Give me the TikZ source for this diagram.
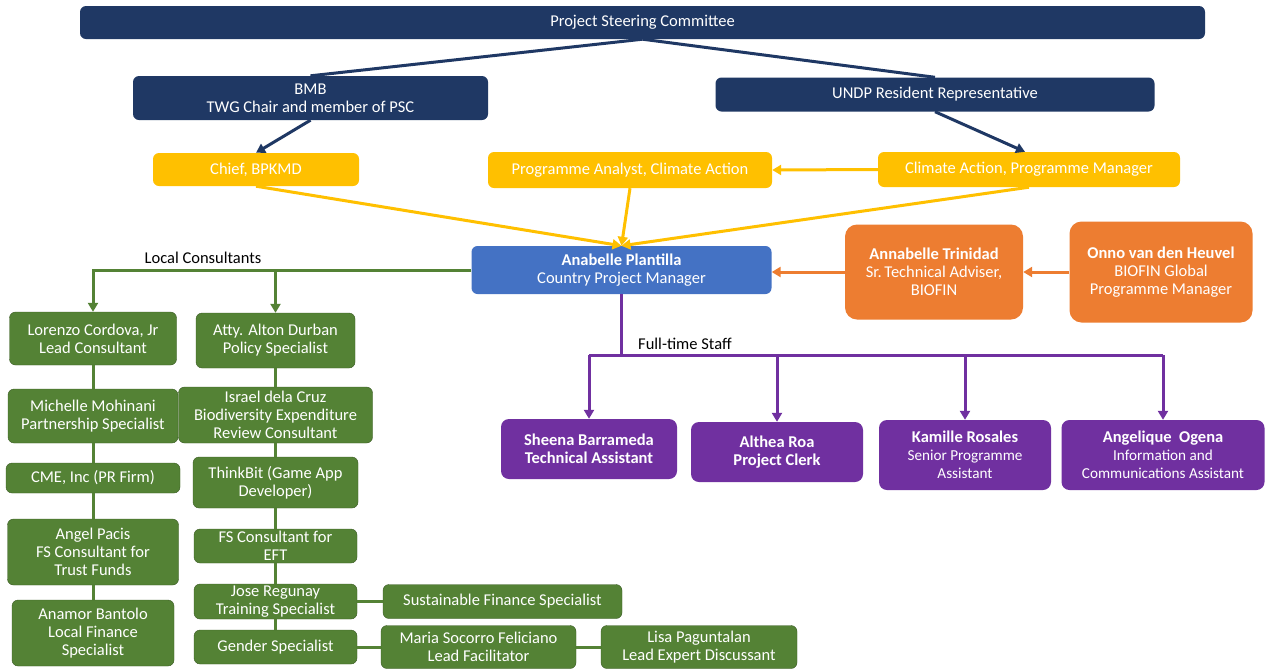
\documentclass[tikz,border=0pt]{standalone}
\usepackage{fontspec}
\setmainfont{Carlito}
\usetikzlibrary{arrows.meta,calc}
\definecolor{navy}{HTML}{1F3864}
\definecolor{gold}{HTML}{FFC000}
\definecolor{bluebox}{HTML}{4472C4}
\definecolor{orangebox}{HTML}{ED7D31}
\definecolor{greenbox}{HTML}{548235}
\definecolor{purplebox}{HTML}{7030A0}
\tikzset{
  box/.style={rounded corners=6pt, inner sep=0pt, align=center, text=white,
    font=\fontsize{16.5}{18}\selectfont},
  navybox/.style={box, fill=navy},
  goldbox/.style={box, fill=gold},
  bluenode/.style={box, fill=bluebox},
  orangenode/.style={box, fill=orangebox, rounded corners=12pt},
  greennode/.style={box, fill=greenbox, draw=greenbox!70!black, line width=0.4pt},
  purplenode/.style={box, fill=purplebox, rounded corners=8pt},
  tip/.style={-{Triangle[length=9pt,width=10pt]}},
  navyline/.style={draw=navy, line width=3pt},
  goldline/.style={draw=gold, line width=3pt},
  orangeline/.style={draw=orangebox, line width=3pt},
  greenline/.style={draw=greenbox, line width=3pt},
  purpleline/.style={draw=purplebox, line width=3pt},
  lbl/.style={font=\fontsize{16.5}{18}\selectfont, text=black, inner sep=0pt}
}
\newcommand{\smtxt}[1]{{\fontsize{15.2}{17}\selectfont #1}}
\begin{document}
\begin{tikzpicture}[x=1pt,y=-1pt]
\useasboundingbox (0,0) rectangle (1266,670);
\fill[white] (0,0) rectangle (1266,670);
% top
\node[navybox, minimum width=1125pt, minimum height=33pt] (psc) at (642.5,22.5) {Project Steering Committee};
\node[navybox, minimum width=355pt, minimum height=44pt] (bmb) at (310.5,98) {BMB\\TWG Chair and member of PSC};
\node[navybox, minimum width=439pt, minimum height=34pt] (undp) at (935,94.5) {UNDP Resident Representative};
\node[goldbox, minimum width=206pt, minimum height=33pt] (chief) at (256,169.5) {Chief, BPKMD};
\node[goldbox, minimum width=284pt, minimum height=36pt] (analyst) at (630,170) {Programme Analyst, Climate Action};
\node[goldbox, minimum width=302pt, minimum height=35pt] (climate) at (1029,169.5) {Climate Action, Programme Manager};
\node[bluenode, minimum width=300pt, minimum height=48pt] (anab) at (621.5,270) {\textbf{Anabelle Plantilla}\\Country Project Manager};
\node[orangenode, minimum width=178pt, minimum height=95pt] (trin) at (934,272) {\textbf{Annabelle Trinidad}\\Sr.\,Technical Adviser,\\BIOFIN};
\node[orangenode, minimum width=183pt, minimum height=101pt] (onno) at (1161,272) {\textbf{Onno van den Heuvel}\\BIOFIN Global\\Programme Manager};
% green left column
\node[greennode, minimum width=167pt, minimum height=53pt] (lor) at (93,338.5) {Lorenzo Cordova, Jr\\Lead Consultant};
\node[greennode, minimum width=170pt, minimum height=54pt] (mich) at (93,416) {Michelle Mohinani\\Partnership Specialist};
\node[greennode, minimum width=174pt, minimum height=30pt] (cme) at (93,478) {CME, Inc (PR Firm)};
\node[greennode, minimum width=171pt, minimum height=66pt] (angel) at (93,552) {Angel Pacis\\FS Consultant for\\Trust Funds};
\node[greennode, minimum width=162pt, minimum height=66pt] (anam) at (93,633) {Anamor Bantolo\\Local Finance\\Specialist};
% green right column
\node[greennode, minimum width=159pt, minimum height=55pt] (atty) at (275.5,340.5) {Atty. Alton Durban\\Policy Specialist};
\node[greennode, minimum width=194pt, minimum height=56pt] (isr) at (275.5,415) {Israel dela Cruz\\Biodiversity Expenditure\\Review Consultant};
\node[greennode, minimum width=165pt, minimum height=51pt] (think) at (275.5,482.5) {ThinkBit (Game App\\Developer)};
\node[greennode, minimum width=163pt, minimum height=34pt] (fs) at (275.5,546) {FS Consultant for\\EFT};
\node[greennode, minimum width=163pt, minimum height=35pt] (jose) at (275.5,601.5) {Jose Regunay\\Training Specialist};
\node[greennode, minimum width=163pt, minimum height=34pt] (gender) at (275.5,647) {Gender Specialist};
\node[greennode, minimum width=239pt, minimum height=34pt] (sfs) at (502.5,601.5) {Sustainable Finance Specialist};
\node[greennode, minimum width=195pt, minimum height=43pt] (maria) at (478.5,647) {Maria Socorro Feliciano\\Lead Facilitator};
\node[greennode, minimum width=196pt, minimum height=43pt] (lisa) at (699,647) {Lisa Paguntalan\\Lead Expert Discussant};
% purple
\node[purplenode, minimum width=176pt, minimum height=60pt] (sheena) at (589,449) {\textbf{Sheena Barrameda}\\\textbf{Technical Assistant}};
\node[purplenode, minimum width=172pt, minimum height=60pt] (althea) at (777,452) {\textbf{Althea Roa}\\\textbf{Project Clerk}};
\node[purplenode, minimum width=172pt, minimum height=70pt] (kamille) at (965,455) {\textbf{Kamille Rosales}\\\smtxt{Senior Programme}\\\smtxt{Assistant}};
\node[purplenode, minimum width=203pt, minimum height=70pt] (ange) at (1163,455) {\textbf{Angelique\ \ Ogena}\\\smtxt{Information and}\\\smtxt{Communications Assistant}};
% labels
\node[lbl] (loclbl) at (203,258) {Local Consultants};
\node[lbl, anchor=west] (ftlbl) at (638,344) {Full-time Staff};
% navy connectors
\draw[navyline] (psc.south) -- (bmb.north);
\draw[navyline] (psc.south) -- (undp.north);
\draw[navyline, tip] (bmb.south) -- (chief.north);
\draw[navyline, tip] (undp.south) -- ($(climate.north)+(-4,0)$);
% gold connectors
\draw[goldline, tip] (climate.west) -- (analyst.east);
\draw[goldline, tip] (chief.south) -- (anab.north);
\draw[goldline, tip] (analyst.south) -- (anab.north);
\draw[goldline, tip] (climate.south) -- (anab.north);
% orange connectors
\draw[orangeline, tip] (trin.west) -- (trin.west -| anab.east);
\draw[orangeline, tip] (onno.west) -- (onno.west -| trin.east);
% green connectors
\draw[greenline, tip] (anab.west) -| (lor.north);
\draw[greenline, tip] (atty.north |- anab.west) -- (atty.north);
\draw[greenline] (lor.south) -- (mich.north);
\draw[greenline] (mich.south) -- (cme.north);
\draw[greenline] (cme.south) -- (angel.north);
\draw[greenline] (angel.south) -- (anam.north);
\draw[greenline] (atty.south) -- (isr.north);
\draw[greenline] (isr.south) -- (think.north);
\draw[greenline] (think.south) -- (fs.north);
\draw[greenline] (fs.south) -- (jose.north);
\draw[greenline] (jose.south) -- (gender.north);
\draw[greenline] (jose.east) -- (sfs.west);
\draw[greenline] (gender.east) -- (maria.west);
\draw[greenline] (maria.east) -- (lisa.west);
% purple connectors
\coordinate (pj) at (620,355);
\draw[purpleline] (anab.south) -- (anab.south |- pj);
\draw[purpleline] (sheena.north |- pj) -- (ange.north |- pj);
\draw[purpleline, tip] (sheena.north |- pj) -- (sheena.north);
\draw[purpleline, tip] (althea.north |- pj) -- (althea.north);
\draw[purpleline, tip] (kamille.north |- pj) -- (kamille.north);
\draw[purpleline, tip] (ange.north |- pj) -- (ange.north);
\end{tikzpicture}
\end{document}
